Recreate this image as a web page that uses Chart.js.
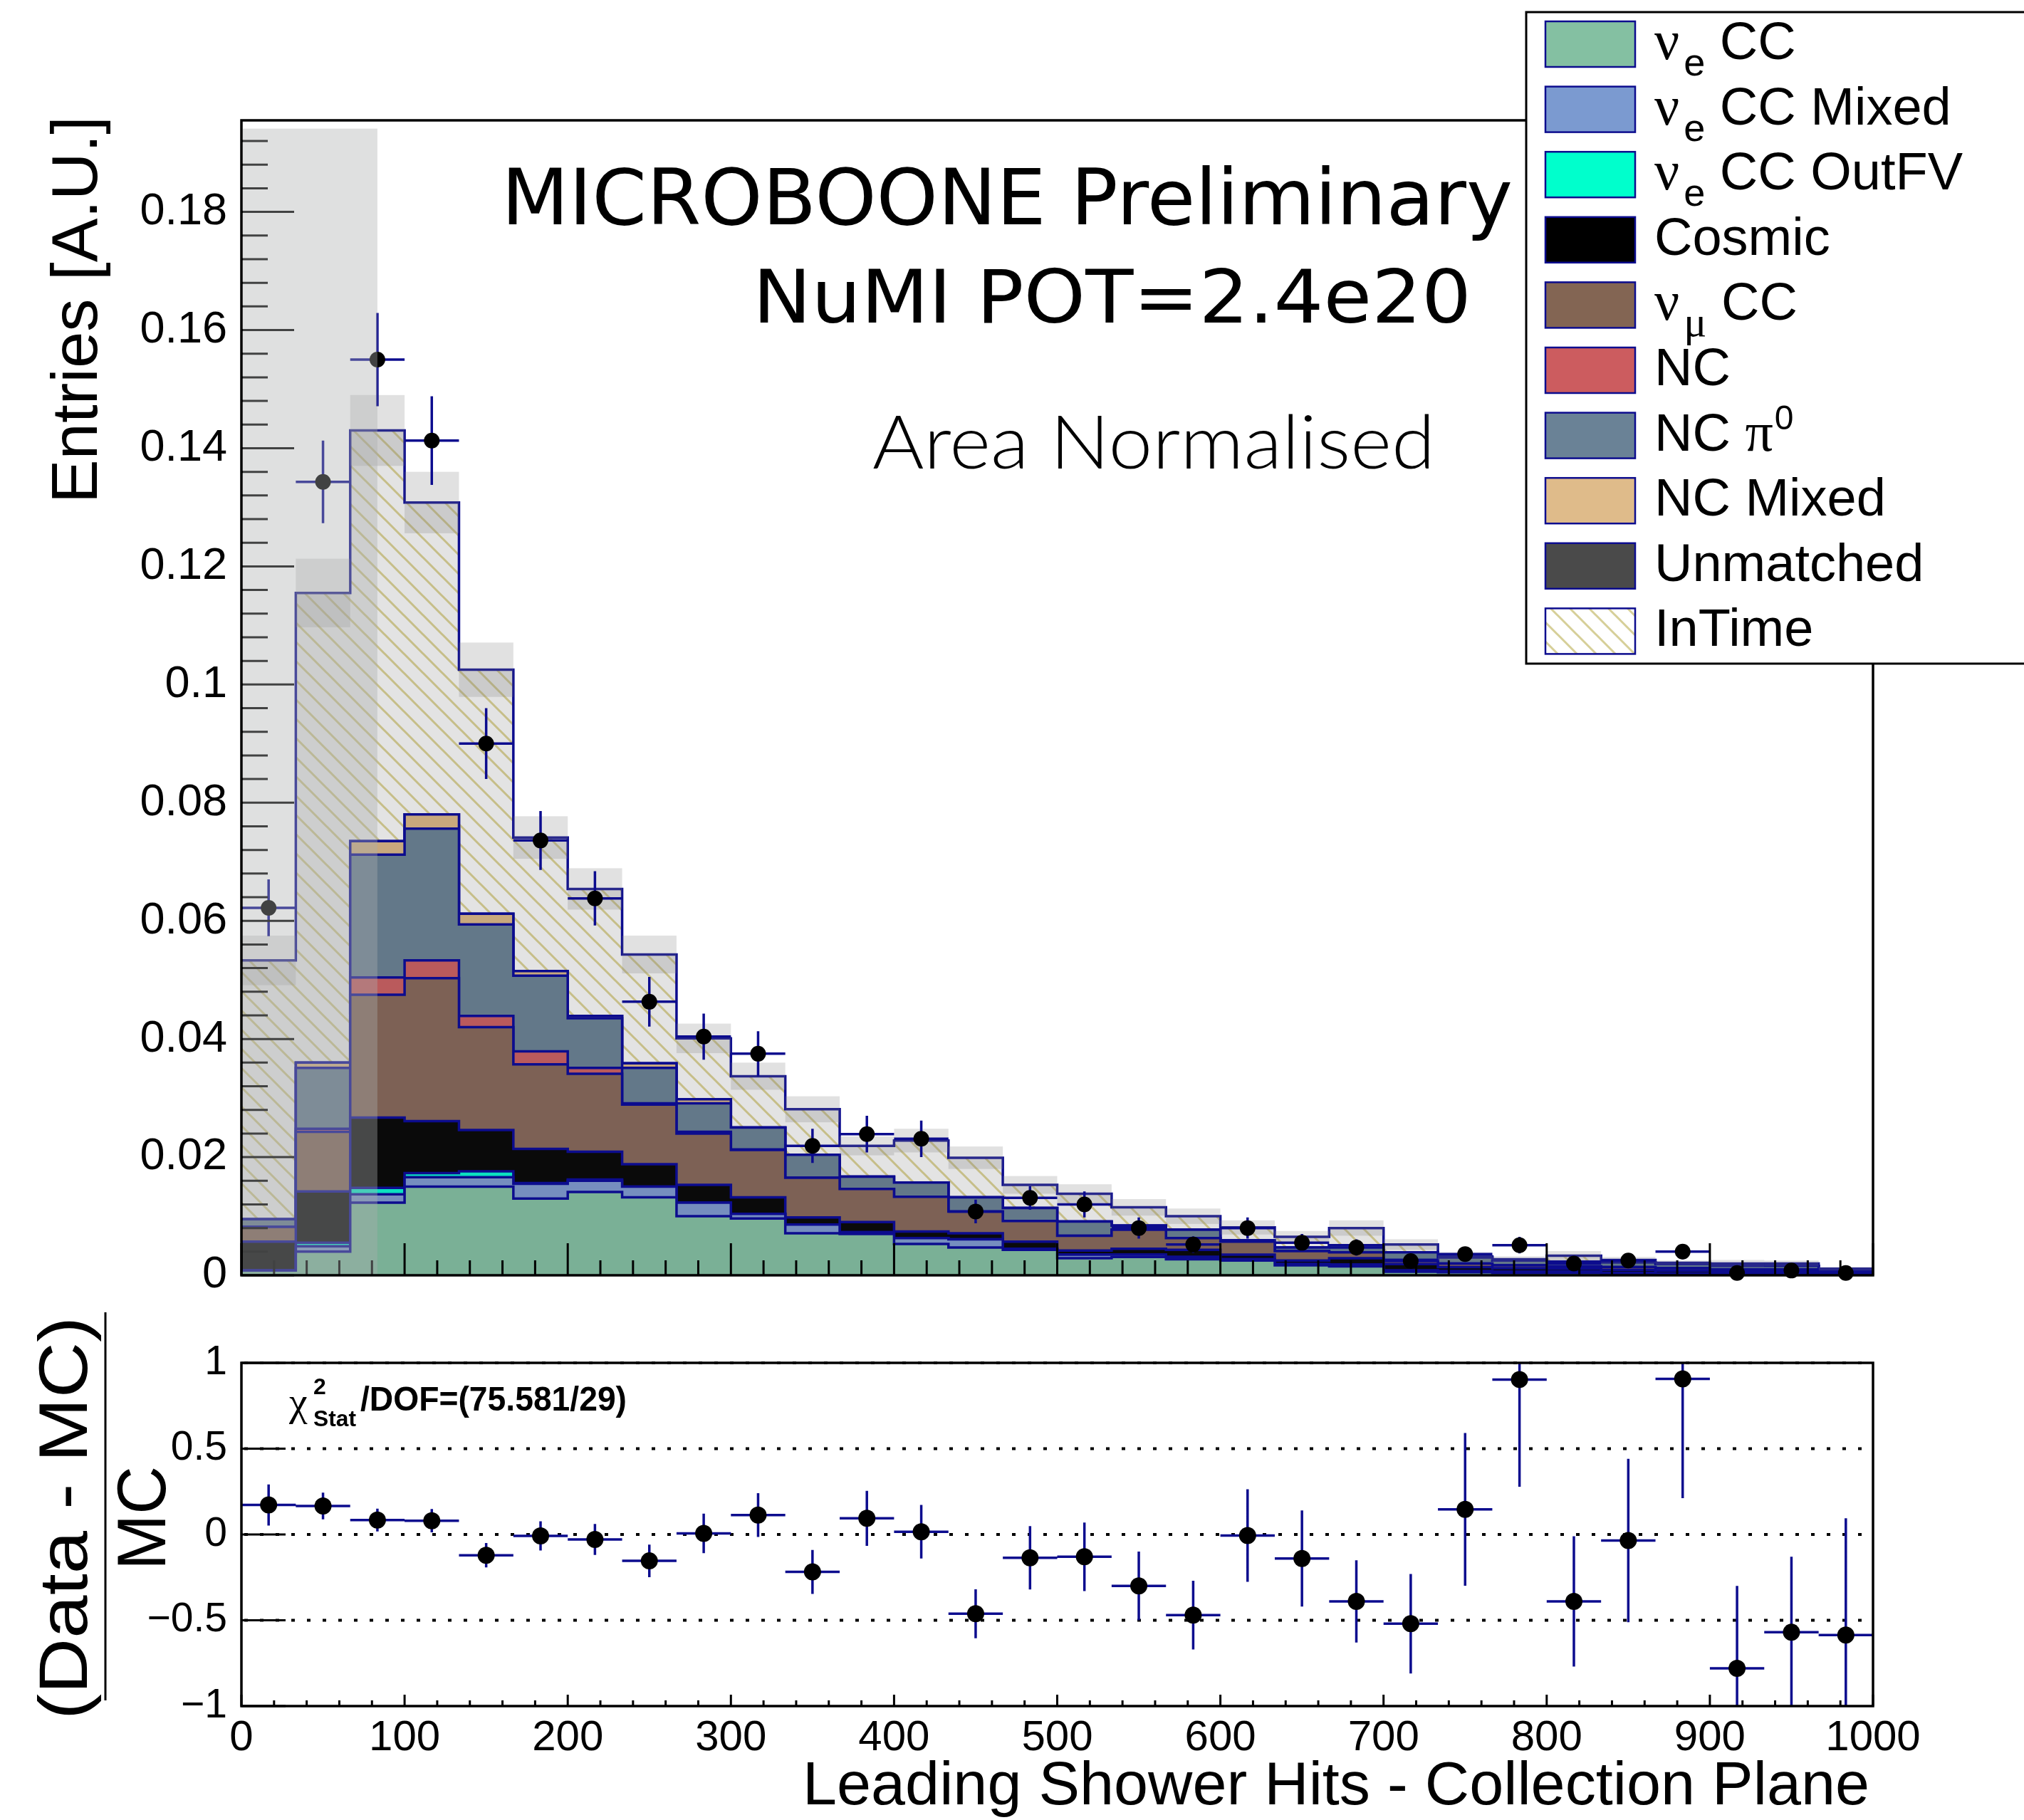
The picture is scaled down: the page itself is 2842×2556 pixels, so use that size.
<!DOCTYPE html>
<html>
<head>
<meta charset="utf-8">
<script src="https://cdn.jsdelivr.net/npm/chart.js@4.4.1/dist/chart.umd.min.js"></script>
<style>
html,body{margin:0;padding:0;background:#fff;}
#wrap{position:relative;width:2842px;height:2556px;overflow:hidden;background:#fff;}
#c1{position:absolute;left:0;top:0;}
#c2{position:absolute;left:0;top:1800px;}
</style>
</head>
<body>
<div id="wrap">
<canvas id="c1" width="2842" height="1860"></canvas>
<canvas id="c2" width="2842" height="756"></canvas>
</div>
<script>
// ---------------- DATA ----------------
const binEdges = [0, 33.333, 66.667, 100, 133.333, 166.667, 200, 233.333, 266.667, 300,
  333.333, 366.667, 400, 433.333, 466.667, 500, 533.333, 566.667, 600, 633.333,
  666.667, 700, 733.333, 766.667, 800, 833.333, 866.667, 900, 933.333, 966.667, 1000];

const nueCC     = [0.0008,0.0040,0.0123,0.0150,0.0150,0.0130,0.0141,0.0132,0.0100,0.0096,0.0071,0.0070,0.0053,0.0047,0.0043,0.0029,0.0031,0.0027,0.0025,0.0017,0.0015,0.0006,0.0005,0.0004,0.0004,0.0003,0.0002,0.0002,0.0002,0.0001];
const nueMixed  = [0.0000,0.0009,0.0014,0.0016,0.0016,0.0025,0.0019,0.0018,0.0023,0.0008,0.0015,0.0003,0.0010,0.0014,0.0002,0.0006,0.0004,0.0004,0.0002,0.0002,0.0003,0.0002,0.0002,0.0002,0.0002,0.0001,0.0001,0.0001,0.0001,0.0001];
const nueOutFV  = [0.0000,0.0006,0.0011,0.0007,0.0010,0.0001,0.0002,0.0000,0.0000,0.0000,0.0000,0.0000,0.0000,0.0000,0.0000,0.0000,0.0000,0.0000,0.0000,0.0000,0.0000,0.0000,0.0000,0.0000,0.0000,0.0000,0.0000,0.0000,0.0000,0.0000];
const cosmic    = [0.0049,0.0087,0.0119,0.0088,0.0070,0.0058,0.0047,0.0038,0.0030,0.0028,0.0012,0.0017,0.0011,0.0010,0.0012,0.0007,0.0010,0.0012,0.0008,0.0006,0.0011,0.0011,0.0007,0.0006,0.0005,0.0005,0.0005,0.0004,0.0004,0.0002];
const numuCC    = [0.0025,0.0101,0.0208,0.0242,0.0174,0.0143,0.0132,0.0101,0.0087,0.0080,0.0067,0.0056,0.0059,0.0037,0.0035,0.0025,0.0032,0.0020,0.0022,0.0016,0.0010,0.0007,0.0006,0.0005,0.0004,0.0005,0.0004,0.0003,0.0003,0.0002];
const ncOther   = [0.0000,0.0005,0.0029,0.0030,0.0019,0.0022,0.0010,0.0002,0.0003,0.0001,0.0000,0.0000,0.0000,0.0000,0.0000,0.0000,0.0000,0.0000,0.0000,0.0000,0.0000,0.0000,0.0000,0.0000,0.0000,0.0000,0.0000,0.0000,0.0000,0.0000];
const ncPi0     = [0.0013,0.0103,0.0208,0.0223,0.0155,0.0128,0.0084,0.0060,0.0048,0.0037,0.0039,0.0021,0.0024,0.0024,0.0022,0.0024,0.0007,0.0014,0.0002,0.0006,0.0012,0.0013,0.0010,0.0008,0.0008,0.0008,0.0007,0.0006,0.0006,0.0003];
const ncMixed   = [0.0000,0.0009,0.0023,0.0024,0.0018,0.0008,0.0004,0.0008,0.0007,0.0000,0.0000,0.0000,0.0000,0.0000,0.0000,0.0000,0.0000,0.0000,0.0000,0.0000,0.0000,0.0000,0.0000,0.0000,0.0000,0.0000,0.0000,0.0000,0.0000,0.0000];
const unmatched = [0.0000,0.0000,0.0000,0.0000,0.0000,0.0000,0.0000,0.0000,0.0000,0.0000,0.0000,0.0000,0.0000,0.0000,0.0000,0.0000,0.0000,0.0000,0.0000,0.0000,0.0000,0.0000,0.0000,0.0000,0.0000,0.0000,0.0000,0.0000,0.0000,0.0000];
const inTime    = [0.0438,0.0795,0.0695,0.0528,0.0413,0.0226,0.0215,0.0184,0.0103,0.0087,0.0077,0.0052,0.0071,0.0067,0.0039,0.0047,0.0031,0.0023,0.0022,0.0018,0.0029,0.0013,0.0002,0.0002,0.0010,0.0004,0.0002,0.0004,0.0004,0.0002];
const mcErr     = [0.0042,0.0058,0.0060,0.0052,0.0046,0.0036,0.0035,0.0032,0.0025,0.0023,0.0022,0.0016,0.0020,0.0019,0.0015,0.0016,0.0014,0.0013,0.0012,0.0010,0.0013,0.0009,0.0007,0.0005,0.0008,0.0005,0.0004,0.0006,0.0005,0.0003];

const dataVals  = [0.0622,0.1343,0.1550,0.1413,0.0900,0.0736,0.0638,0.0463,0.0404,0.0375,0.0219,0.0239,0.0231,0.0108,0.0131,0.0120,0.0080,0.0052,0.0080,0.0055,0.0047,0.0024,0.0036,0.0051,0.0020,0.0025,0.0040,0.0004,0.0008,0.0004];
const dataErr   = [0.0048,0.0070,0.0079,0.0075,0.0060,0.0050,0.0046,0.0042,0.0039,0.0038,0.0029,0.0031,0.0031,0.0020,0.0020,0.0022,0.0018,0.0014,0.0018,0.0015,0.0014,0.0010,0.0012,0.0014,0.0009,0.0010,0.0013,0.0004,0.0006,0.0004];

const ratioVals = [0.172,0.166,0.084,0.080,-0.121,-0.008,-0.029,-0.154,0.006,0.113,-0.218,0.094,0.016,-0.462,-0.136,-0.130,-0.300,-0.470,-0.006,-0.140,-0.390,-0.520,0.146,0.903,-0.390,-0.035,0.907,-0.780,-0.570,-0.586];
const ratioErr  = [0.120,0.078,0.066,0.068,0.071,0.085,0.090,0.095,0.115,0.128,0.128,0.160,0.156,0.143,0.185,0.200,0.200,0.200,0.270,0.280,0.240,0.290,0.445,0.625,0.380,0.476,0.695,0.480,0.440,0.680];

const compNames = ['νe CC','νe CC Mixed','νe CC OutFV','Cosmic','νμ CC','NC','NC π0','NC Mixed','Unmatched','InTime'];
const components = [nueCC, nueMixed, nueOutFV, cosmic, numuCC, ncOther, ncPi0, ncMixed, unmatched, inTime];

const mainYTickLabels = [0,0.02,0.04,0.06,0.08,0.1,0.12,0.14,0.16,0.18];
const ratioYTickLabels = [-1,-0.5,0,0.5,1];
const xTickLabels = [0,100,200,300,400,500,600,700,800,900,1000];
const ratioRefLines = [-0.5, 0, 0.5];

// overlay box seen in the first bins (value space)
const boxX = [0, 83.333];
const boxTop = 0.1941;

// ---------------- STYLE ----------------
const NAVY = '#0c0c8e';
const SANS = '"Liberation Sans", Arial, Helvetica, sans-serif';
const SERIF = '"Liberation Serif", "Times New Roman", serif';
Chart.defaults.font.family = SANS;
Chart.defaults.color = '#000';

function makeHatch(bg, line, size, lw) {
  const c = document.createElement('canvas');
  c.width = size; c.height = size;
  const g = c.getContext('2d');
  if (bg) { g.fillStyle = bg; g.fillRect(0, 0, size, size); }
  g.strokeStyle = line; g.lineWidth = lw; g.lineCap = 'square';
  g.beginPath();
  for (let k = -1; k <= 1; k++) { g.moveTo(k * size, 0); g.lineTo(k * size + size, size); }
  g.stroke();
  return g.createPattern(c, 'repeat');
}
const plotHatch = makeHatch('#e3e3e3', '#c6be88', 27, 3);
const legendHatch = makeHatch('#ffffff', '#d6cf98', 27, 3);

const plotColors = ['#7ab096','#768ebf','#0be0c0','#0a0a0a','#7d6155','#ba5a5c','#637889','#c8a87d','#4a4a4a', plotHatch];
const legendColors = ['#84c0a2','#7b9ad0','#00ffcc','#000000','#836553','#cc5c5f','#6a8296','#dfbb8a','#4a4a4a', legendHatch];

const nBins = binEdges.length - 1;
const binCenters = binEdges.slice(0, -1).map((e, i) => (e + binEdges[i + 1]) / 2);
const mcTotals = binCenters.map((_, i) => components.reduce((s, arr) => s + arr[i], 0));

// ---------------- helpers ----------------
function fitText(ctx, txt, font, x, y, targetW, align, rot) {
  ctx.save();
  ctx.font = font;
  const w = ctx.measureText(txt).width;
  const sx = targetW ? targetW / w : 1;
  ctx.translate(x, y);
  if (rot) ctx.rotate(rot);
  ctx.scale(sx, 1);
  ctx.textAlign = align || 'left';
  ctx.textBaseline = 'alphabetic';
  ctx.fillStyle = '#000';
  ctx.fillText(txt, 0, 0);
  ctx.restore();
}

const legendRows = [
  [{t:'ν',s:'g'},{t:'e',s:'sub'},{t:' CC',s:'n'}],
  [{t:'ν',s:'g'},{t:'e',s:'sub'},{t:' CC Mixed',s:'n'}],
  [{t:'ν',s:'g'},{t:'e',s:'sub'},{t:' CC OutFV',s:'n'}],
  [{t:'Cosmic',s:'n'}],
  [{t:'ν',s:'g'},{t:'μ',s:'gsub'},{t:' CC',s:'n'}],
  [{t:'NC',s:'n'}],
  [{t:'NC ',s:'n'},{t:'π',s:'g'},{t:'0',s:'sup'}],
  [{t:'NC Mixed',s:'n'}],
  [{t:'Unmatched',s:'n'}],
  [{t:'InTime',s:'n'}]
];
const partFont = {
  n:   {f: '74px ' + SANS,  dy: 0,   gap: 0},
  g:   {f: '78px ' + SERIF, dy: 0,   gap: 0},
  sub: {f: '54px ' + SANS,  dy: 23,  gap: 6},
  gsub:{f: '60px ' + SERIF, dy: 23,  gap: 6},
  sup: {f: '48px ' + SANS,  dy: -30, gap: 2}
};

function drawLegend(ctx) {
  ctx.save();
  ctx.fillStyle = '#fff';
  ctx.fillRect(2143, 17, 720, 915);
  ctx.strokeStyle = '#000'; ctx.lineWidth = 3;
  ctx.strokeRect(2143, 17, 720, 915);
  legendRows.forEach((row, i) => {
    const cy = 62 + i * 91.6;
    ctx.fillStyle = legendColors[i];
    ctx.fillRect(2170, cy - 32, 126, 64);
    ctx.strokeStyle = NAVY; ctx.lineWidth = 2.5;
    ctx.strokeRect(2170, cy - 32, 126, 64);
    let x = 2323;
    const base = cy + 21;
    row.forEach(p => {
      const pf = partFont[p.s];
      x += pf.gap;
      ctx.font = pf.f;
      ctx.fillStyle = '#000';
      ctx.textAlign = 'left'; ctx.textBaseline = 'alphabetic';
      ctx.fillText(p.t, x, base + pf.dy);
      x += ctx.measureText(p.t).width;
    });
  });
  ctx.restore();
}

// ---------------- MAIN CHART ----------------
const DATA_IDX = components.length;
const stackSets = components.map((vals, k) => ({
  type: 'line',
  label: compNames[k],
  data: binEdges.map((e, i) => ({x: e, y: vals[Math.min(i, nBins - 1)]})),
  stepped: true,
  fill: k === 0 ? 'origin' : '-1',
  backgroundColor: plotColors[k],
  borderColor: NAVY,
  borderWidth: 3.5,
  borderJoinStyle: 'miter',
  pointRadius: 0,
  stack: 'mc',
  order: 1
}));
const dataSet = {
  type: 'line',
  label: 'Data',
  data: binCenters.map((c, i) => ({x: c, y: dataVals[i]})),
  showLine: false,
  pointRadius: 11,
  pointBackgroundColor: '#000',
  pointBorderColor: '#000',
  pointBorderWidth: 0,
  stack: 'data',
  order: 0,
  clip: false
};

const mainDeco = {
  id: 'mainDeco',
  beforeDatasetDraw(chart, args) {
    if (args.index !== DATA_IDX) return;
    const {ctx, scales: {x, y}} = chart;
    ctx.save();
    ctx.fillStyle = 'rgba(128,128,128,0.24)';
    for (let i = 0; i < nBins; i++) {
      const x0 = x.getPixelForValue(binEdges[i]), x1 = x.getPixelForValue(binEdges[i + 1]);
      const yt = y.getPixelForValue(mcTotals[i] + mcErr[i]), yb = y.getPixelForValue(mcTotals[i] - mcErr[i]);
      ctx.fillRect(x0, yt, x1 - x0, yb - yt);
    }
    ctx.strokeStyle = NAVY; ctx.lineWidth = 3.5; ctx.lineCap = 'butt';
    ctx.beginPath();
    for (let i = 0; i < nBins; i++) {
      const yc = y.getPixelForValue(dataVals[i]);
      ctx.moveTo(x.getPixelForValue(binEdges[i]), yc);
      ctx.lineTo(x.getPixelForValue(binEdges[i + 1]), yc);
      const xc = x.getPixelForValue(binCenters[i]);
      ctx.moveTo(xc, y.getPixelForValue(dataVals[i] + dataErr[i]));
      ctx.lineTo(xc, y.getPixelForValue(Math.max(0, dataVals[i] - dataErr[i])));
    }
    ctx.stroke();
    ctx.restore();
  },
  afterDatasetsDraw(chart) {
    const {ctx, chartArea: a, scales: {x, y}} = chart;
    ctx.save();
    // inward ticks
    ctx.strokeStyle = '#000'; ctx.lineWidth = 3;
    ctx.beginPath();
    for (let v = 0; v <= 1000; v += 20) {
      const px = x.getPixelForValue(v);
      const len = (v % 100 === 0) ? 45 : 21;
      ctx.moveTo(px, a.bottom); ctx.lineTo(px, a.bottom - len);
    }
    for (let k = 0; k * 0.004 <= y.max + 1e-9; k++) {
      const py = y.getPixelForValue(k * 0.004);
      const len = (k % 5 === 0) ? 74 : 37;
      ctx.moveTo(a.left, py); ctx.lineTo(a.left + len, py);
    }
    ctx.stroke();
    // translucent overlay box
    ctx.fillStyle = 'rgba(171,174,174,0.38)';
    const bx0 = x.getPixelForValue(boxX[0]) + 2, bx1 = x.getPixelForValue(boxX[1]);
    const by0 = y.getPixelForValue(boxTop), by1 = y.getPixelForValue(0);
    ctx.fillRect(bx0, by0, bx1 - bx0, by1 - by0);
    // frame
    ctx.strokeStyle = '#000'; ctx.lineWidth = 3.5;
    ctx.strokeRect(a.left, a.top, a.right - a.left, a.bottom - a.top);
    ctx.restore();
  },
  afterDraw(chart) {
    const ctx = chart.ctx;
    fitText(ctx, 'MICROBOONE Preliminary', '108px "DejaVu Sans", ' + SANS, 704, 315, 1420, 'left');
    fitText(ctx, 'NuMI POT=2.4e20', '104px "DejaVu Sans", ' + SANS, 1057, 453, 1009, 'left');
    fitText(ctx, 'Area Normalised', '300 104px Lato, ' + SANS, 1225, 658, 790, 'left');
    fitText(ctx, 'Entries [A.U.]', '90px ' + SANS, 136, 707, 544, 'left', -Math.PI / 2);
    drawLegend(ctx);
  }
};

new Chart(document.getElementById('c1'), {
  type: 'line',
  data: {datasets: [...stackSets, dataSet]},
  options: {
    responsive: false,
    animation: false,
    events: [],
    layout: {padding: {left: 0, right: 212, top: 169, bottom: 69}},
    plugins: {legend: {display: false}, tooltip: {enabled: false}},
    scales: {
      x: {type: 'linear', min: 0, max: 1000, display: false},
      y: {
        type: 'linear', min: 0, max: 0.1955, stacked: true,
        afterFit(s) { s.width = 339; },
        grid: {display: false, drawTicks: false},
        border: {display: false},
        afterBuildTicks(s) { s.ticks = mainYTickLabels.map(v => ({value: v})); },
        ticks: {
          padding: 20,
          font: {size: 63, family: SANS},
          color: '#000',
          callback: v => String(+v.toFixed(2))
        }
      }
    }
  },
  plugins: [mainDeco]
});

// ---------------- RATIO CHART ----------------
const ratioSet = {
  type: 'line',
  label: 'Data/MC',
  data: binCenters.map((c, i) => ({x: c, y: ratioVals[i]})),
  showLine: false,
  pointRadius: 12,
  pointBackgroundColor: '#000',
  pointBorderColor: '#000',
  pointBorderWidth: 0
};

const ratioDeco = {
  id: 'ratioDeco',
  beforeDatasetsDraw(chart) {
    const {ctx, chartArea: a, scales: {x, y}} = chart;
    ctx.save();
    ctx.strokeStyle = '#000'; ctx.lineWidth = 4; ctx.setLineDash([5, 17]);
    ctx.beginPath();
    ratioRefLines.concat([1]).forEach(v => {
      const py = y.getPixelForValue(v);
      ctx.moveTo(a.left + 4, py); ctx.lineTo(a.right, py);
    });
    ctx.stroke();
    ctx.setLineDash([]);
    // error bars
    ctx.beginPath(); ctx.rect(a.left, a.top, a.right - a.left, a.bottom - a.top); ctx.clip();
    ctx.strokeStyle = NAVY; ctx.lineWidth = 3.5;
    ctx.beginPath();
    for (let i = 0; i < nBins; i++) {
      const yc = y.getPixelForValue(ratioVals[i]);
      ctx.moveTo(x.getPixelForValue(binEdges[i]), yc);
      ctx.lineTo(x.getPixelForValue(binEdges[i + 1]), yc);
      const xc = x.getPixelForValue(binCenters[i]);
      ctx.moveTo(xc, y.getPixelForValue(ratioVals[i] + ratioErr[i]));
      ctx.lineTo(xc, y.getPixelForValue(ratioVals[i] - ratioErr[i]));
    }
    ctx.stroke();
    ctx.restore();
  },
  afterDatasetsDraw(chart) {
    const {ctx, chartArea: a, scales: {x, y}} = chart;
    ctx.save();
    ctx.strokeStyle = '#000'; ctx.lineWidth = 3;
    ctx.beginPath();
    for (let v = 0; v <= 1000; v += 20) {
      const px = x.getPixelForValue(v);
      const len = (v % 100 === 0) ? 16 : 8;
      ctx.moveTo(px, a.bottom); ctx.lineTo(px, a.bottom - len);
    }
    ratioYTickLabels.forEach(v => {
      const py = y.getPixelForValue(v);
      ctx.moveTo(a.left, py); ctx.lineTo(a.left + 62, py);
    });
    ctx.stroke();
    ctx.lineWidth = 3.5;
    ctx.strokeRect(a.left, a.top, a.right - a.left, a.bottom - a.top);
    ctx.restore();
  },
  afterDraw(chart) {
    const ctx = chart.ctx;
    const off = 1800;
    // x title
    fitText(ctx, 'Leading Shower Hits - Collection Plane', '86px ' + SANS, 2625, 2534 - off, 1498, 'right');
    // y title (fraction)
    fitText(ctx, '(Data - MC)', '96px ' + SANS, 122, 2132 - off, 566, 'center', -Math.PI / 2);
    fitText(ctx, 'MC', '96px ' + SANS, 232, 2132 - off, 146, 'center', -Math.PI / 2);
    ctx.save();
    ctx.strokeStyle = '#000'; ctx.lineWidth = 3;
    ctx.beginPath(); ctx.moveTo(148, 1843 - off); ctx.lineTo(148, 2388 - off); ctx.stroke();
    ctx.restore();
    // chi2 text
    ctx.save();
    ctx.fillStyle = '#000'; ctx.textBaseline = 'alphabetic'; ctx.textAlign = 'left';
    ctx.font = '58px ' + SERIF; ctx.fillText('χ', 406, 1988 - off);
    ctx.restore();
    fitText(ctx, '2', 'bold 32px ' + SANS, 440, 1958 - off, 0, 'left');
    fitText(ctx, 'Stat', 'bold 32px ' + SANS, 440, 2003 - off, 60, 'left');
    fitText(ctx, '/DOF=(75.581/29)', 'bold 48px ' + SANS, 506, 1981 - off, 374, 'left');
  }
};

new Chart(document.getElementById('c2'), {
  type: 'line',
  data: {datasets: [ratioSet]},
  options: {
    responsive: false,
    animation: false,
    events: [],
    layout: {padding: {left: 0, right: 212, top: 114, bottom: 0}},
    plugins: {legend: {display: false}, tooltip: {enabled: false}},
    scales: {
      x: {
        type: 'linear', min: 0, max: 1000,
        afterFit(s) { s.height = 160; },
        grid: {display: false, drawTicks: false},
        border: {display: false},
        afterBuildTicks(s) { s.ticks = xTickLabels.map(v => ({value: v})); },
        ticks: {padding: 9, font: {size: 60, family: SANS}, color: '#000', autoSkip: false, maxRotation: 0,
                callback: v => String(v)}
      },
      y: {
        type: 'linear', min: -1, max: 1,
        afterFit(s) { s.width = 339; },
        grid: {display: false, drawTicks: false},
        border: {display: false},
        afterBuildTicks(s) { s.ticks = ratioYTickLabels.map(v => ({value: v})); },
        ticks: {padding: 20, font: {size: 57, family: SANS}, color: '#000',
                callback: v => (v < 0 ? '\u2212' : '') + String(Math.abs(v))}
      }
    }
  },
  plugins: [ratioDeco]
});
</script>
</body>
</html>
